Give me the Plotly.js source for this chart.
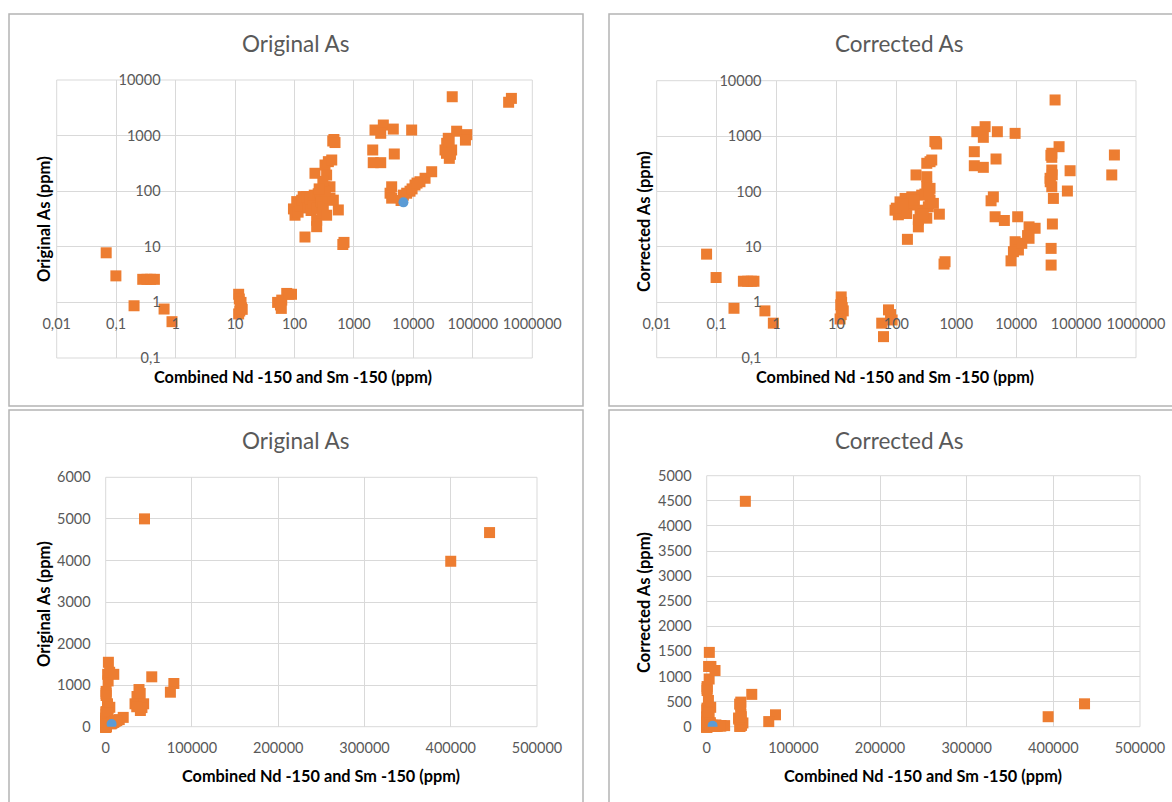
<!DOCTYPE html>
<html>
<head>
<meta charset="utf-8">
<script src="https://cdn.plot.ly/plotly-3.0.1.min.js"></script>
<style>html,body{margin:0;padding:0;background:#fff;}#chart{width:1172px;height:802px;}</style>
</head>
<body>
<div id="chart"></div>
<script>
// ---- Data ----
// Original As vs combined Nd-150 + Sm-150 (ppm)
const origX = [0.068,0.099,0.2,0.28,0.33,0.38,0.44,0.64,0.87,
  11.5,11.8,12.3,12.8,12,11.5,13.2,12.6,
  52,58,61,60,74,80,89,
  96,102,109,115,125,132,140,150,160,170,180,190,208,215,221,236,236,236,250,268,280,290,305,326,326,347,347,360,371,395,395,423,440,460,480,450,546,150,650,680,330,300,260,
  2260,3120,2820,4590,9350,2070,4770,2110,2820,4310,4050,4310,6780,6200,8770,10640,15700,20300,12900,7710,9500,11500,
  45000,445000,400000,
  38600,38600,38600,40200,53400,79000,75000,36300,34000,44000,42000,36000,40000];
const origY = [7.8,3.0,0.87,2.6,2.6,2.6,2.6,0.76,0.45,
  1.4,1.15,0.95,0.8,0.7,0.62,0.75,1.0,
  1.0,0.9,1.1,0.78,1.45,1.4,1.4,
  48,37,65,42,55,69,80,60,80,50,72,45,61,85,210,49,30,23,90,92,65,40,53,120,296,195,37,70,340,120,75,364,800,850,750,69,46,15,11,12,100,150,110,
  1260,1550,1100,1310,1260,551,467,326,326,120,92,75,85,68,100,129,171,224,148,92,110,140,
  5000,4670,3980,
  894,632,514,390,1200,1040,830,726,551,551,460,480,800];

// Corrected As vs combined Nd-150 + Sm-150 (ppm)
const corrX = [0.068,0.098,0.195,0.28,0.33,0.38,0.42,0.64,0.885,
  12,12.2,12.5,13,12,11.5,11.8,
  57,61,74,80,85,
  460,440,470,365,322,390,213,322,322,365,365,140,115,95,108,192,249,342,415,522,322,233,233,153,625,650,181,265,149,282,100,130,200,300,350,
  44600,3030,2200,2830,4850,9600,2000,4610,2000,2830,4160,3810,4450,6350,10600,16400,20700,16400,9600,10900,9000,8200,12400,15500,
  40200,38300,38300,52000,39300,39300,39300,36800,39300,41800,79400,71600,436000,394000,37000,40000,38000];
const corrY = [7.4,2.8,0.78,2.4,2.4,2.4,2.4,0.70,0.42,
  1.25,1.0,0.8,0.7,0.6,0.5,0.9,
  0.42,0.24,0.73,0.6,0.48,
  760,800,720,345,323,370,199,185,122,114,70,75,65,46,38,57,46,53,61,39,33,23,31,13.7,4.9,5.4,80,86,40,40,50,60,70,90,100,
  4490,1480,1200,950,1200,1120,523,386,292,273,80,68,35,30,35,23,21.7,14.3,12.4,8.8,8.2,5.6,11.6,16,
  25.9,9.4,4.7,644,490,414,244,173,122,75,237,102,456,199,150,200,450];

// Second series (blue point)
const blueOrigX = [6800];
const blueOrigY = [63];
const blueCorrX = [6800];
const blueCorrY = [20];

// Tick labels
const logXTicks = [0.01,0.1,1,10,100,1000,10000,100000,1000000];
const logXLabels = ['0,01','0,1','1','10','100','1000','10000','100000','1000000'];
const logYTicks = [0.1,1,10,100,1000,10000];
const logYLabels = ['0,1','1','10','100','1000','10000'];

const panelTitles = ['Original As','Corrected As','Original As','Corrected As'];
const xTitle = 'Combined Nd -150 and Sm -150 (ppm)';
const yTitles = ['Original As (ppm)','Corrected As (ppm)','Original As (ppm)','Corrected As (ppm)'];

// ---- Styling ----
const W = 1172, H = 802;
const FONT = 'Lato, "Open Sans", "Liberation Sans", sans-serif';
const ORANGE = '#ED7D31', BLUE = '#5B9BD5', GRID = '#d9d9d9', TXT = '#595959';
const px = v => v / W;
const py = v => 1 - v / H;

const sq = {symbol:'square', size:11, color:ORANGE, line:{width:0}};
const dot = {symbol:'circle', size:10, color:BLUE, line:{width:0}};

const traces = [
  {x:origX, y:origY, xaxis:'x', yaxis:'y', type:'scatter', mode:'markers', marker:sq, cliponaxis:false},
  {x:blueOrigX, y:blueOrigY, xaxis:'x', yaxis:'y', type:'scatter', mode:'markers', marker:dot},
  {x:corrX, y:corrY, xaxis:'x2', yaxis:'y2', type:'scatter', mode:'markers', marker:sq, cliponaxis:false},
  {x:origX, y:origY, xaxis:'x3', yaxis:'y3', type:'scatter', mode:'markers', marker:sq, cliponaxis:false},
  {x:blueOrigX, y:blueOrigY, xaxis:'x3', yaxis:'y3', type:'scatter', mode:'markers', marker:dot},
  {x:corrX, y:corrY, xaxis:'x4', yaxis:'y4', type:'scatter', mode:'markers', marker:sq, cliponaxis:false},
  {x:blueCorrX, y:blueCorrY, xaxis:'x4', yaxis:'y4', type:'scatter', mode:'markers', marker:dot}
];

const tickfont = {family:FONT, size:14.5, color:TXT};
const common = {showgrid:true, gridcolor:GRID, gridwidth:1, zeroline:false, showline:false, ticks:'', tickfont:tickfont, tickangle:0, fixedrange:true};

function logX(d0, d1, posPx) {
  return Object.assign({}, common, {type:'log', range:[-2,6], domain:[px(d0),px(d1)], anchor:'free', position:py(posPx),
    tickmode:'array', tickvals:logXTicks, ticktext:logXLabels, ticklabelstandoff:11});
}
function logY(t, b, posPx) {
  return Object.assign({}, common, {type:'log', range:[-1,4], domain:[py(b),py(t)], anchor:'free', position:px(posPx),
    tickmode:'array', tickvals:logYTicks, ticktext:logYLabels, ticklabelstandoff:15});
}
function linX(d0, d1, yax) {
  return Object.assign({}, common, {type:'linear', range:[0,500000], dtick:100000, tickformat:'d', domain:[px(d0),px(d1)], anchor:yax, ticklabelstandoff:11});
}
function linY(t, b, maxv, step, xax) {
  return Object.assign({}, common, {type:'linear', range:[0,maxv], dtick:step, tickformat:'d', domain:[py(b),py(t)], anchor:xax, ticklabelstandoff:14});
}

const layout = {
  width:W, height:H, margin:{l:0,r:0,t:0,b:0}, paper_bgcolor:'#fff', plot_bgcolor:'#fff', showlegend:false,
  font:{family:FONT, color:TXT},
  xaxis: logX(56.7, 532.3, 302.4),
  yaxis: logY(80, 358, 175.6),
  xaxis2: logX(656.7, 1136, 302.3),
  yaxis2: logY(80.7, 357.7, 776.5),
  xaxis3: linX(105.7, 537, 'y3'),
  yaxis3: linY(477.3, 726.7, 6000, 1000, 'x3'),
  xaxis4: linX(706.7, 1140, 'y4'),
  yaxis4: linY(475.7, 726.7, 5000, 500, 'x4'),
  shapes: [],
  annotations: []
};

// panel borders
const panels = [[9,14,583,406],[609,14,1180,406],[9,410,583,810],[609,410,1180,810]];
panels.forEach(p => layout.shapes.push({type:'rect', xref:'paper', yref:'paper', x0:px(p[0]), x1:px(p[2]), y0:py(p[3]), y1:py(p[1]), line:{color:'#b4b4b4', width:1.5}, layer:'below'}));
// plot-area frames
['','2','3','4'].forEach(s => layout.shapes.push({type:'rect', xref:'x'+s+' domain', yref:'y'+s+' domain', x0:0, x1:1, y0:0, y1:1, line:{color:GRID, width:1}, layer:'below'}));

// titles
const titlePos = [[296,43],[899,43],[296,440],[899,440]];
titlePos.forEach((p,i) => layout.annotations.push({text:panelTitles[i], xref:'paper', yref:'paper', x:px(p[0]), y:py(p[1]), xanchor:'center', yanchor:'middle', showarrow:false, font:{family:FONT, size:22.5, color:TXT}}));
// x axis titles
const xtPos = [[293,376],[895,376],[321,775],[923,775]];
xtPos.forEach(p => layout.annotations.push({text:'<b>'+xTitle+'</b>', xref:'paper', yref:'paper', x:px(p[0]), y:py(p[1]), xanchor:'center', yanchor:'middle', showarrow:false, font:{family:FONT, size:16.3, color:'#000'}}));
// y axis titles
const ytPos = [[44,219],[644,222],[44,604],[644,603]];
ytPos.forEach((p,i) => layout.annotations.push({text:'<b>'+yTitles[i]+'</b>', textangle:-90, xref:'paper', yref:'paper', x:px(p[0]), y:py(p[1]), xanchor:'center', yanchor:'middle', showarrow:false, font:{family:FONT, size:16.5, color:'#000'}}));

Plotly.newPlot('chart', traces, layout, {displayModeBar:false, staticPlot:true});
</script>
</body>
</html>
